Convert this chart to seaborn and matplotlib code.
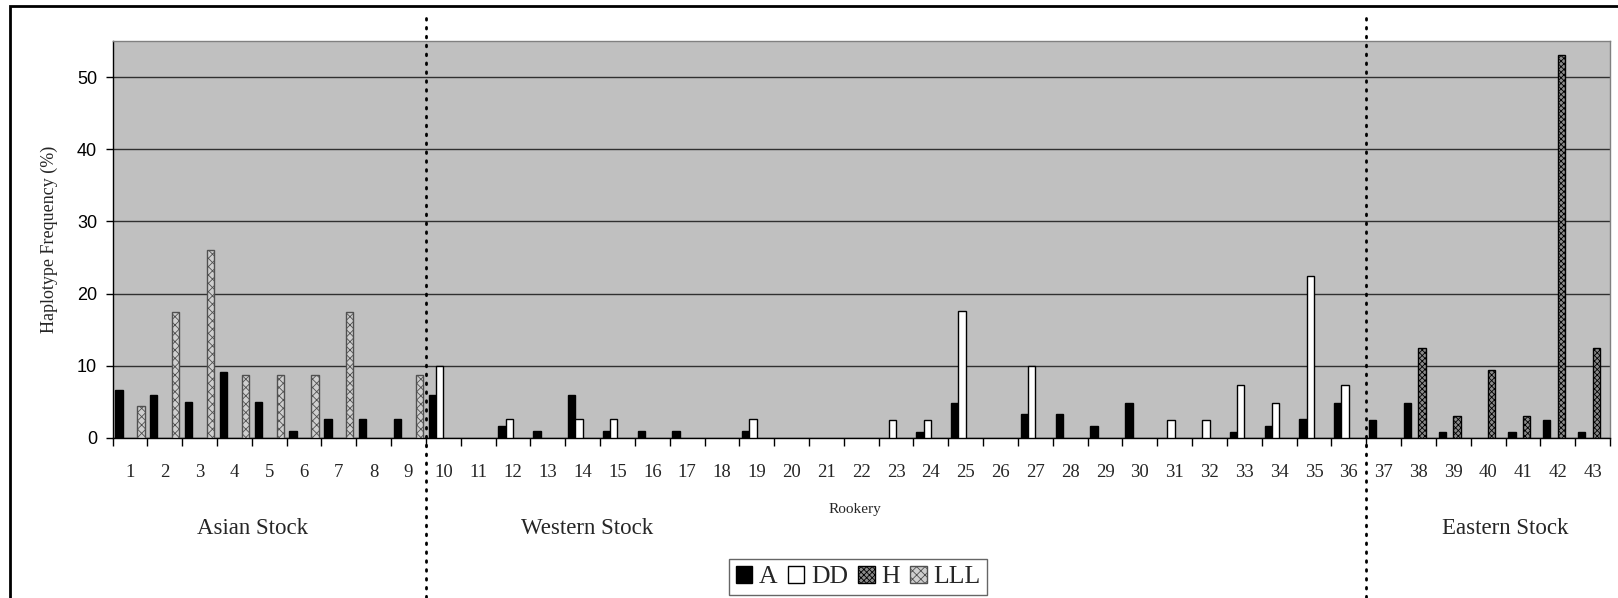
import numpy as np
import pandas as pd
import matplotlib
matplotlib.use("Agg")
import matplotlib.pyplot as plt
import matplotlib.patches as mpatches
from matplotlib.transforms import blended_transform_factory
import seaborn as sns

rookeries = [str(i) for i in range(1, 44)]
haplotypes = ["A", "DD", "H", "LLL"]

A = [6.6, 5.9, 5.0, 9.2, 5.0, 1.0, 2.6, 2.6, 2.6,
     5.9, 0, 1.7, 1.0, 5.9, 1.0, 1.0, 1.0, 0, 1.0, 0, 0, 0, 0, 0.9, 4.9, 0, 3.3,
     3.3, 1.6, 4.9, 0, 0, 0.9, 1.6, 2.6, 4.9,
     2.5, 4.8, 0.9, 0, 0.9, 2.5, 0.9]
DD = [0, 0, 0, 0, 0, 0, 0, 0, 0,
      10.0, 0, 2.6, 0, 2.6, 2.6, 0, 0, 0, 2.6, 0, 0, 0, 2.5, 2.5, 17.6, 0, 10.0,
      0, 0, 0, 2.5, 2.5, 7.4, 4.9, 22.5, 7.4,
      0, 0, 0, 0, 0, 0, 0]
H = [0] * 36 + [0, 12.4, 3.0, 9.4, 3.0, 53.1, 12.4]
LLL = [4.5, 17.4, 26.1, 8.7, 8.7, 8.7, 17.4, 0, 8.7] + [0] * 34

stock_labels = ["Asian Stock", "Western Stock", "Eastern Stock"]

df = pd.DataFrame({
    "Rookery": rookeries * 4,
    "Haplotype": np.repeat(haplotypes, len(rookeries)),
    "Freq": A + DD + H + LLL,
})

sns.set_theme(style="white")
plt.rcParams["font.family"] = ["Liberation Serif", "DejaVu Serif"]
plt.rcParams["hatch.linewidth"] = 0.6

W, Hh = 1618, 598
fig = plt.figure(figsize=(W / 100, Hh / 100), dpi=100)
ax = fig.add_axes([112.5 / W, 1 - 438 / Hh, (1610 - 112.5) / W, (438 - 41) / Hh])
ax.set_facecolor("#c0c0c0")

face = {"A": "#000000", "DD": "#ffffff", "H": "#8a8a8a", "LLL": "#cfcfcf"}
hatch = {"A": None, "DD": None, "H": "xxxxxx", "LLL": "xxxx"}
edge = {"A": "#000000", "DD": "#000000", "H": "#000000", "LLL": "#505050"}

sns.barplot(data=df, x="Rookery", y="Freq", hue="Haplotype", order=rookeries,
            hue_order=haplotypes, palette=face, width=0.84, edgecolor="black",
            linewidth=1.0, saturation=1, legend=False, ax=ax, zorder=3)
for cont, hp in zip(ax.containers, haplotypes):
    for bar in cont:
        bar.set_edgecolor(edge[hp])
        if hatch[hp]:
            bar.set_hatch(hatch[hp])
        if bar.get_height() == 0:
            bar.set_visible(False)

ax.set_ylim(0, 55)
ax.set_xlim(-0.5, len(rookeries) - 0.5)
ax.set_yticks([0, 10, 20, 30, 40, 50])
ax.yaxis.grid(True, color="#303030", linewidth=1.0, zorder=1)
ax.set_axisbelow(True)
for lbl in ax.get_yticklabels():
    lbl.set_fontfamily(["Liberation Sans", "DejaVu Sans"])
ax.tick_params(axis="y", labelsize=13, length=5, width=1, direction="out",
               left=True, pad=6, colors="black")
ax.set_xticks(range(len(rookeries)))
ax.set_xticklabels(rookeries)
ax.set_xticks(np.arange(-0.5, len(rookeries), 1), minor=True)
ax.tick_params(axis="x", which="major", length=0, labelsize=13.5, pad=19)
ax.tick_params(axis="x", which="minor", length=6, width=1, direction="out",
               bottom=True, color="black")
ax.set_xlabel("")
ax.set_ylabel("Haplotype Frequency (%)", fontsize=13, labelpad=14)
for s in ["top", "right"]:
    ax.spines[s].set_color("#808080")
    ax.spines[s].set_linewidth(1)
for s in ["bottom", "left"]:
    ax.spines[s].set_color("black")
    ax.spines[s].set_linewidth(1)

# figure frame
fig.patches.append(mpatches.Rectangle((10 / W, -0.05), 1.2, 1 - 6 / Hh + 0.05,
                                      transform=fig.transFigure, fill=False,
                                      edgecolor="black", linewidth=2))

# stock separators
tr = blended_transform_factory(ax.transData, fig.transFigure)
for xb in [8.5, 35.5]:
    ax.plot([xb, xb], [1 - 18 / Hh, 0], transform=tr, color="black",
            linewidth=2.0, linestyle=(0, (0.6, 2.6)), dash_capstyle="round",
            clip_on=False, zorder=5)

# group labels
for lab, xp in zip(stock_labels, [253, 587, 1505]):
    fig.text(xp / W, 1 - 528 / Hh, lab, ha="center", va="center", fontsize=16.5)
fig.text(855 / W, 1 - 510 / Hh, "Rookery", ha="center", va="center", fontsize=11)

handles = [mpatches.Patch(facecolor=face[h], edgecolor=edge[h], hatch=hatch[h],
                          linewidth=1, label=h) for h in haplotypes]
leg = fig.legend(handles=handles, loc="center", bbox_to_anchor=(858 / W, 1 - 577 / Hh),
                 ncol=4, fontsize=18.5, frameon=True, fancybox=False,
                 handlelength=0.65, handleheight=0.65, handletextpad=0.25,
                 columnspacing=0.4, borderpad=0.25, borderaxespad=0)
leg.get_frame().set_edgecolor("#404040")
leg.get_frame().set_linewidth(1)

fig.savefig("out.png", dpi=100)
